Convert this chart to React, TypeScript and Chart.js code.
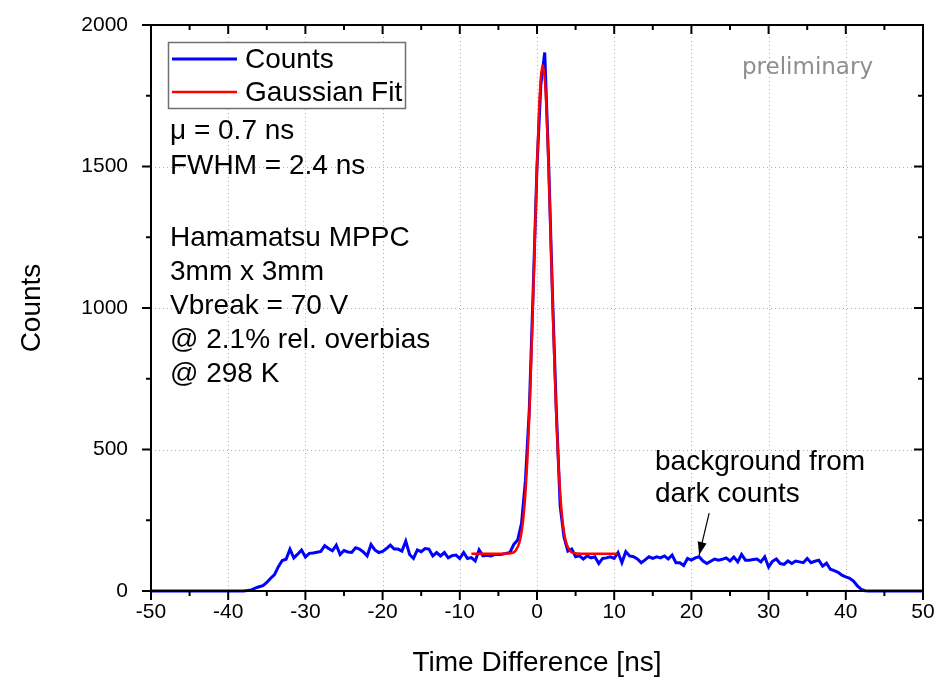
import React, { useEffect, useRef } from "react";
import { Chart, registerables } from "chart.js";

Chart.register(...registerables);

// ---------------- data ----------------
const binStart = -50; // ns, first bin centre
const binWidth = 0.5; // ns
// Counts per 0.5 ns bin, from -50 ns to +50 ns (201 bins)
const counts = [
  0, 0, 0, 0, 0, 0, 0, 0, 0, 0, // -50 .. -45.5
  0, 0, 0, 0, 0, 0, 0, 0, 0, 0, // -45 .. -40.5
  0, 0, 0, 0, 0, 2, 4, 10, 15, 19, // -40 .. -35.5
  30, 45, 58, 86, 108, 112, 148, 117, 130, 145, // -35 .. -30.5
  120, 133, 134, 137, 140, 160, 150, 142, 162, 129, // -30 .. -25.5
  143, 138, 136, 153, 148, 138, 124, 164, 145, 136, // -25 .. -20.5
  140, 150, 162, 148, 148, 141, 176, 129, 115, 145, // -20 .. -15.5
  139, 150, 148, 124, 136, 124, 136, 117, 125, 127, // -15 .. -10.5
  115, 136, 115, 118, 106, 145, 124, 126, 124, 129, // -10 .. -5.5
  129, 130, 133, 136, 165, 180, 240, 390, 640, 1060, // -5 .. -0.5
  1500, 1790, 1903, 1520, 1050, 640, 300, 190, 141, 148, // 0 .. 4.5
  121, 124, 113, 124, 117, 121, 97, 115, 117, 121, // 5 .. 9.5
  115, 136, 100, 139, 124, 121, 113, 100, 110, 121, // 10 .. 14.5
  115, 121, 117, 124, 113, 127, 100, 100, 90, 115, // 15 .. 19.5
  109, 117, 121, 106, 97, 105, 113, 109, 112, 117, // 20 .. 24.5
  106, 120, 103, 129, 109, 109, 111, 113, 103, 121, // 25 .. 29.5
  85, 105, 113, 97, 94, 106, 97, 106, 103, 100, // 30 .. 34.5
  115, 100, 105, 109, 88, 98, 77, 72, 66, 56, // 35 .. 39.5
  50, 45, 35, 18, 6, 1, 0, 0, 0, 0, // 40 .. 44.5
  0, 0, 0, 0, 0, 0, 0, 0, 0, 0, // 45 .. 49.5
  0, // 50
];

const fitTimes = [
  -8.5, -4.25, -3.25, -2.75, -2.25, -2.0, -1.75, -1.5, -1.25, -1.0, -0.75, -0.5, -0.25, 0.0,
  0.25, 0.5, 0.75, 1.0, 1.25, 1.5, 1.75, 2.0, 2.25, 2.5, 2.75, 3.0, 3.25, 3.5, 3.75, 4.25,
  4.75, 5.75, 10.4,
];
const fitCounts = [
  132, 132, 134, 143, 174, 208, 262, 345, 463, 619, 813, 1037, 1274, 1500,
  1689, 1814, 1858, 1814, 1689, 1500, 1274, 1037, 813, 619, 463, 345, 262, 208, 174, 143,
  134, 132, 132,
];

const xTicks = [-50, -40, -30, -20, -10, 0, 10, 20, 30, 40, 50];
const xMinorTicks = [-45, -35, -25, -15, -5, 5, 15, 25, 35, 45];
const yTicks = [0, 500, 1000, 1500, 2000];
const yMinorTicks = [250, 750, 1250, 1750];

const seriesNames = ["Counts", "Gaussian Fit"];
const fitInfo = ["μ = 0.7 ns", "FWHM = 2.4 ns"];
const deviceInfo = ["Hamamatsu MPPC", "3mm x 3mm", "Vbreak = 70 V", "@ 2.1% rel. overbias", "@ 298 K"];
const watermark = "preliminary";
const noteLines = ["background from", "dark counts"];
const arrowFrom = { x: 22.3, y: 275 };
const arrowTo = { x: 21.0, y: 127 };
const xTitle = "Time Difference [ns]";
const yTitle = "Counts";

// ---------------- styles ----------------
const FONT = '"Liberation Sans", Arial, Helvetica, sans-serif';
const BLUE = "#0000ff";
const RED = "#ff0000";

const decorPlugin = {
  id: "decor",
  beforeDatasetsDraw(chart: any) {
    const { ctx, chartArea: a, scales } = chart;
    const x = scales.x;
    const y = scales.y;
    ctx.save();
    ctx.strokeStyle = "#b0b0b0";
    ctx.lineWidth = 1;
    ctx.setLineDash([1, 3]);
    for (const v of xTicks) {
      if (v <= -50 || v >= 50) continue;
      const px = Math.round(x.getPixelForValue(v)) + 0.5;
      ctx.beginPath();
      ctx.moveTo(px, a.top);
      ctx.lineTo(px, a.bottom);
      ctx.stroke();
    }
    for (const v of yTicks) {
      if (v <= 0 || v >= 2000) continue;
      const py = Math.round(y.getPixelForValue(v)) + 0.5;
      ctx.beginPath();
      ctx.moveTo(a.left, py);
      ctx.lineTo(a.right, py);
      ctx.stroke();
    }
    ctx.restore();
  },
  afterDatasetsDraw(chart: any) {
    const { ctx, chartArea: a, scales } = chart;
    const x = scales.x;
    const y = scales.y;
    ctx.save();
    ctx.setLineDash([]);
    ctx.strokeStyle = "#000";
    ctx.lineWidth = 2;
    ctx.strokeRect(a.left, a.top, a.right - a.left, a.bottom - a.top);

    const seg = (x1: number, y1: number, x2: number, y2: number) => {
      ctx.beginPath();
      ctx.moveTo(x1, y1);
      ctx.lineTo(x2, y2);
      ctx.stroke();
    };
    const MAJ = 9;
    const MIN = 5;
    // x ticks: bottom outward, top inward
    for (const v of xTicks) {
      const px = x.getPixelForValue(v);
      seg(px, a.bottom, px, a.bottom + MAJ);
      seg(px, a.top, px, a.top + MAJ);
    }
    for (const v of xMinorTicks) {
      const px = x.getPixelForValue(v);
      seg(px, a.bottom, px, a.bottom + MIN);
      seg(px, a.top, px, a.top + MIN);
    }
    // y ticks: left outward, right inward
    for (const v of yTicks) {
      const py = y.getPixelForValue(v);
      seg(a.left, py, a.left - MAJ, py);
      seg(a.right, py, a.right - MAJ, py);
    }
    for (const v of yMinorTicks) {
      const py = y.getPixelForValue(v);
      seg(a.left, py, a.left - MIN, py);
      seg(a.right, py, a.right - MIN, py);
    }

    // tick labels
    ctx.fillStyle = "#000";
    ctx.font = `21px ${FONT}`;
    ctx.textAlign = "center";
    ctx.textBaseline = "middle";
    for (const v of xTicks) {
      ctx.fillText(String(v), x.getPixelForValue(v), a.bottom + 21);
    }
    ctx.textAlign = "right";
    for (const v of yTicks) {
      ctx.fillText(String(v), a.left - 23, y.getPixelForValue(v));
    }

    // axis titles
    ctx.font = `28px ${FONT}`;
    ctx.textAlign = "center";
    ctx.fillText(xTitle, (a.left + a.right) / 2, 663);
    ctx.save();
    ctx.translate(32, 308);
    ctx.rotate(-Math.PI / 2);
    ctx.fillText(yTitle, 0, 0);
    ctx.restore();

    // legend
    const lx = 168.5, ly = 42.5, lw = 237, lh = 66;
    ctx.fillStyle = "#fff";
    ctx.fillRect(lx, ly, lw, lh);
    ctx.strokeStyle = "#707070";
    ctx.lineWidth = 1.5;
    ctx.strokeRect(lx, ly, lw, lh);
    ctx.lineWidth = 3;
    ctx.strokeStyle = BLUE;
    seg(172, 59, 237, 59);
    ctx.lineWidth = 2.5;
    ctx.strokeStyle = RED;
    seg(172, 92, 237, 92);
    ctx.fillStyle = "#000";
    ctx.font = `28px ${FONT}`;
    ctx.textAlign = "left";
    ctx.fillText(seriesNames[0], 245, 60);
    ctx.fillText(seriesNames[1], 245, 93);

    // info text
    fitInfo.forEach((t, i) => ctx.fillText(t, 170, 131 + i * 35));
    deviceInfo.forEach((t, i) => ctx.fillText(t, 170, 238 + i * 34));

    // watermark
    ctx.fillStyle = "#8e8e8e";
    ctx.font = `23px "DejaVu Sans", Verdana, sans-serif`;
    ctx.fillText(watermark, 742, 68);

    // note + arrow
    ctx.fillStyle = "#000";
    ctx.font = `28px ${FONT}`;
    noteLines.forEach((t, i) => ctx.fillText(t, 655, 462 + i * 32));
    const x1 = x.getPixelForValue(arrowFrom.x);
    const y1 = y.getPixelForValue(arrowFrom.y);
    const x2 = x.getPixelForValue(arrowTo.x);
    const y2 = y.getPixelForValue(arrowTo.y);
    ctx.strokeStyle = "#000";
    ctx.lineWidth = 1.2;
    seg(x1, y1, x2, y2);
    const ang = Math.atan2(y2 - y1, x2 - x1);
    const hl = 13, hw = 4.5;
    ctx.beginPath();
    ctx.moveTo(x2, y2);
    ctx.lineTo(x2 - hl * Math.cos(ang) + hw * Math.sin(ang), y2 - hl * Math.sin(ang) - hw * Math.cos(ang));
    ctx.lineTo(x2 - hl * Math.cos(ang) - hw * Math.sin(ang), y2 - hl * Math.sin(ang) + hw * Math.cos(ang));
    ctx.closePath();
    ctx.fill();

    ctx.restore();
  },
};

export default function App() {
  const ref = useRef<HTMLCanvasElement | null>(null);
  useEffect(() => {
    if (!ref.current) return;
    const countData = counts.map((c, i) => ({ x: binStart + i * binWidth, y: c }));
    const fitData = fitTimes.map((t, i) => ({ x: t, y: fitCounts[i] }));
    const chart = new Chart(ref.current, {
      type: "line",
      data: {
        datasets: [
          {
            label: seriesNames[0],
            data: countData,
            borderColor: BLUE,
            borderWidth: 3,
            pointRadius: 0,
            tension: 0,
            fill: false,
            order: 2,
            clip: false,
          },
          {
            label: seriesNames[1],
            data: fitData,
            borderColor: RED,
            borderWidth: 2.5,
            pointRadius: 0,
            cubicInterpolationMode: "monotone",
            fill: false,
            order: 1,
            clip: false,
          },
        ],
      },
      options: {
        animation: false,
        responsive: false,
        devicePixelRatio: 1,
        layout: { padding: { left: 151, right: 13, top: 25, bottom: 89 } },
        plugins: { legend: { display: false }, tooltip: { enabled: false } },
        scales: {
          x: { type: "linear", min: -50, max: 50, display: false },
          y: { type: "linear", min: 0, max: 2000, display: false },
        },
      } as any,
      plugins: [decorPlugin],
    });
    return () => chart.destroy();
  }, []);
  return (
    <div style={{ position: "fixed", left: 0, top: 0, width: 936, height: 680, background: "#fff" }}>
      <canvas ref={ref} width={936} height={680} style={{ width: 936, height: 680, display: "block" }} />
    </div>
  );
}
